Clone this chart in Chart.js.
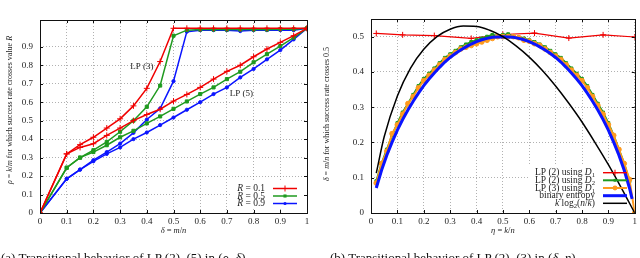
<!DOCTYPE html>
<html>
<head>
<meta charset="utf-8">
<script src="https://cdn.jsdelivr.net/npm/chart.js@4.4.1/dist/chart.umd.min.js"></script>
<style>
  body { margin: 0; background: #fff; width: 640px; height: 258px; overflow: hidden; position: relative; font-family: "Liberation Serif", serif; }
  .panel { position: absolute; top: 0; width: 320px; height: 258px; }
  .cap { position: absolute; top: 251px; font-size: 13px; line-height: 13px; white-space: nowrap; color: #111; }
</style>
</head>
<body>
<div class="panel" style="left:0"><canvas id="left" width="320" height="258"></canvas></div>
<div class="panel" style="left:320px"><canvas id="right" width="320" height="258"></canvas></div>
<div class="cap" style="left:1px">(a) Transitional behavior of LP (2)–(5) in (<i>ρ</i>, <i>δ</i>)</div>
<div class="cap" style="left:330px">(b) Transitional behavior of LP (2)–(3) in (<i>δ</i>, <i>η</i>)</div>
<script>
// ---- left panel: rho = k/m where success rate crosses R, against delta = m/n
const deltaVals = [0, 0.1, 0.15, 0.2, 0.25, 0.3, 0.35, 0.4, 0.45, 0.5, 0.55, 0.6, 0.65, 0.7, 0.75, 0.8, 0.85, 0.9, 0.95, 1];
const lp3R01 = [0, 0.32, 0.37, 0.41, 0.46, 0.51, 0.58, 0.675, 0.82, 1, 1, 1, 1, 1, 1, 1, 1, 1, 1, 1];
const lp5R01 = [0, 0.32, 0.355, 0.375, 0.42, 0.46, 0.5, 0.533, 0.562, 0.606, 0.642, 0.68, 0.725, 0.767, 0.8, 0.846, 0.888, 0.924, 0.96, 1];
const lp3R05 = [0, 0.245, 0.3, 0.34, 0.385, 0.44, 0.5, 0.575, 0.69, 0.96, 0.99, 0.993, 0.993, 0.993, 0.993, 0.993, 0.993, 0.995, 0.995, 1];
const lp5R05 = [0, 0.245, 0.3, 0.33, 0.367, 0.41, 0.445, 0.485, 0.523, 0.564, 0.604, 0.644, 0.68, 0.725, 0.765, 0.816, 0.86, 0.904, 0.95, 1];
const lp3R09 = [0, 0.185, 0.235, 0.286, 0.33, 0.376, 0.434, 0.506, 0.566, 0.714, 0.982, 0.99, 0.99, 0.99, 0.985, 0.99, 0.99, 0.99, 0.99, 1];
const lp5R09 = [0, 0.185, 0.235, 0.28, 0.32, 0.355, 0.4, 0.436, 0.476, 0.517, 0.559, 0.6, 0.644, 0.68, 0.734, 0.78, 0.832, 0.882, 0.94, 1];

// ---- right panel: delta = m/n where success rate crosses 0.5, against eta = k/n
const etaGrid = [0.02, 0.04, 0.06, 0.08, 0.1, 0.12, 0.14, 0.16, 0.18, 0.2,
  0.22, 0.24, 0.26, 0.28, 0.3, 0.32, 0.34, 0.36, 0.38, 0.4,
  0.42, 0.44, 0.46, 0.48, 0.5, 0.52, 0.54, 0.56, 0.58, 0.6,
  0.62, 0.64, 0.66, 0.68, 0.7, 0.72, 0.74, 0.76, 0.78, 0.8,
  0.82, 0.84, 0.86, 0.88, 0.9, 0.92, 0.94, 0.96, 0.98, 1];
const lp2D1Eta = [0.02, 0.12, 0.24, 0.38, 0.5, 0.62, 0.75, 0.88, 1];
const lp2D1 = [0.509, 0.505, 0.503, 0.495, 0.506, 0.51, 0.496, 0.505, 0.499];
const lp2D2 = [0.09, 0.14, 0.18, 0.22, 0.255, 0.285, 0.31, 0.335, 0.36, 0.38,
  0.395, 0.41, 0.425, 0.44, 0.45, 0.46, 0.47, 0.478, 0.485, 0.49,
  0.495, 0.5, 0.505, 0.502, 0.505, 0.507, 0.5, 0.498, 0.495, 0.49,
  0.485, 0.478, 0.47, 0.46, 0.45, 0.44, 0.425, 0.41, 0.395, 0.38,
  0.36, 0.335, 0.31, 0.285, 0.255, 0.22, 0.18, 0.14, 0.09];
const lp3D1 = [0.085, 0.14, 0.175, 0.225, 0.25, 0.28, 0.31, 0.33, 0.355, 0.375,
  0.39, 0.405, 0.42, 0.435, 0.445, 0.455, 0.465, 0.47, 0.475, 0.48,
  0.485, 0.49, 0.495, 0.5, 0.5, 0.5, 0.5, 0.497, 0.49, 0.487,
  0.48, 0.475, 0.465, 0.455, 0.445, 0.435, 0.42, 0.405, 0.39, 0.375,
  0.355, 0.33, 0.305, 0.28, 0.25, 0.22, 0.18, 0.14, 0.095, 0];
const entropyEta = etaGrid.slice(0, 49).concat([0.99]);
const entropy = [0.071, 0.121, 0.164, 0.201, 0.235, 0.265, 0.292, 0.317, 0.34, 0.361,
  0.38, 0.397, 0.413, 0.428, 0.441, 0.452, 0.462, 0.471, 0.479, 0.486,
  0.491, 0.495, 0.498, 0.499, 0.5, 0.499, 0.498, 0.495, 0.491, 0.486,
  0.479, 0.471, 0.462, 0.452, 0.441, 0.428, 0.413, 0.397, 0.38, 0.361,
  0.34, 0.317, 0.292, 0.265, 0.235, 0.201, 0.164, 0.121, 0.071, 0.04];
const klogEta = [0.02, 0.05, 0.1, 0.15, 0.2, 0.25, 0.3, 0.35, 0.4, 0.45, 0.5, 0.55, 0.6, 0.65, 0.7, 0.75, 0.8, 0.85, 0.9, 0.95, 1];
const klog = [0.113, 0.216, 0.332, 0.411, 0.464, 0.5, 0.521, 0.53, 0.529, 0.518, 0.5, 0.474, 0.442, 0.404, 0.36, 0.311, 0.258, 0.199, 0.137, 0.07, 0];

const SERIF = '"Liberation Serif", "DejaVu Serif", serif';
const RED = '#f00000', GREEN = '#1f9a1f', BLUE = '#0a14ff', ORANGE = '#ff9a1e', BLACK = '#000';

function pts(xs, ys) {
  return ys.map((y, i) => ({ x: xs[i], y: y }));
}

function fontFor(seg, size) {
  const k = seg[1] || '';
  return (k.includes('i') ? 'italic ' : '') + (k.includes('s') ? size * 0.7 : size) + 'px ' + SERIF;
}

// text made of pieces, some italic, some subscript
function drawRich(ctx, segs, x, y, size, align) {
  let total = 0;
  segs.forEach(s => { ctx.font = fontFor(s, size); total += ctx.measureText(s[0]).width; });
  let cx = align === 'right' ? x - total : align === 'center' ? x - total / 2 : x;
  ctx.textBaseline = 'middle';
  ctx.textAlign = 'left';
  segs.forEach(s => {
    ctx.font = fontFor(s, size);
    const dy = (s[1] || '').includes('s') ? size * 0.3 : 0;
    ctx.fillText(s[0], cx, y + dy);
    cx += ctx.measureText(s[0]).width;
  });
}

function drawMarker(ctx, kind, x, y, r, color) {
  ctx.save();
  ctx.fillStyle = color;
  ctx.strokeStyle = color;
  ctx.lineWidth = 1;
  ctx.beginPath();
  if (kind === 'cross') {
    ctx.moveTo(x - r, y); ctx.lineTo(x + r, y);
    ctx.moveTo(x, y - r); ctx.lineTo(x, y + r);
    ctx.stroke();
  } else if (kind === 'rect') {
    const h = r * Math.SQRT1_2;
    ctx.fillRect(x - h, y - h, 2 * h, 2 * h);
  } else {
    ctx.arc(x, y, r, 0, Math.PI * 2);
    ctx.fill();
  }
  ctx.restore();
}

function decor(cfg) {
  return {
    id: 'decor',
    beforeDatasetsDraw(chart) {
      const ctx = chart.ctx, b = cfg.keyBox;
      ctx.save();
      ctx.fillStyle = '#fff';
      ctx.fillRect(b[0], b[1], b[2] - b[0], b[3] - b[1]);
      ctx.restore();
    },
    afterDatasetsDraw(chart) {
      const ctx = chart.ctx;
      ctx.save();
      cfg.key.forEach((k, i) => {
        const y = cfg.keyRows[i];
        ctx.fillStyle = '#222';
        drawRich(ctx, k.label, cfg.keyText, y, 9.5, 'right');
        ctx.strokeStyle = k.color;
        ctx.lineWidth = k.width;
        ctx.beginPath();
        ctx.moveTo(cfg.keyLine[0], y);
        ctx.lineTo(cfg.keyLine[1], y);
        ctx.stroke();
        if (k.marker) drawMarker(ctx, k.marker, (cfg.keyLine[0] + cfg.keyLine[1]) / 2, y, k.size, k.color);
      });
      ctx.fillStyle = '#222';
      (cfg.notes || []).forEach(n => {
        drawRich(ctx, n.label, chart.scales.x.getPixelForValue(n.x), chart.scales.y.getPixelForValue(n.y), 9, 'center');
      });
      ctx.restore();
    },
    afterDraw(chart) {
      const ctx = chart.ctx, a = chart.chartArea;
      ctx.save();
      ctx.strokeStyle = '#111';
      ctx.lineWidth = 1;
      ctx.beginPath();
      chart.scales.x.ticks.forEach(t => {
        const px = Math.round(chart.scales.x.getPixelForValue(t.value)) + 0.5;
        ctx.moveTo(px, a.bottom); ctx.lineTo(px, a.bottom - 3);
        ctx.moveTo(px, a.top); ctx.lineTo(px, a.top + 3);
      });
      chart.scales.y.ticks.forEach(t => {
        const py = Math.round(chart.scales.y.getPixelForValue(t.value)) + 0.5;
        ctx.moveTo(a.left, py); ctx.lineTo(a.left + 3, py);
        ctx.moveTo(a.right, py); ctx.lineTo(a.right - 3, py);
      });
      ctx.stroke();
      ctx.strokeRect(Math.round(a.left) + 0.5, Math.round(a.top) + 0.5, Math.round(a.right - a.left), Math.round(a.bottom - a.top));
      ctx.fillStyle = '#222';
      drawRich(ctx, cfg.xTitle, (a.left + a.right) / 2, 231, 8.5, 'center');
      ctx.translate(cfg.yTitleX, cfg.yTitleY);
      ctx.rotate(-Math.PI / 2);
      drawRich(ctx, cfg.yTitle, 0, 0, 8, 'center');
      ctx.restore();
    }
  };
}

function tickLabel(v) {
  const r = Math.round(v * 10) / 10;
  if (r === 0) return '0';
  if (r === 1) return '1';
  return r.toFixed(1);
}

function scalesFor(yMax, yLimit, yWidth) {
  const gridOpts = { color: 'rgba(90,90,90,0.6)', lineWidth: 0.8, drawTicks: false };
  const tickFont = { family: SERIF, size: 9 };
  return {
    x: {
      type: 'linear', min: 0, max: 1,
      grid: gridOpts,
      border: { display: false, dash: [1, 2] },
      ticks: { stepSize: 0.1, font: tickFont, color: '#222', padding: 3, maxRotation: 0, autoSkip: false, callback: tickLabel },
      afterFit: s => { s.height = 26; }
    },
    y: {
      type: 'linear', min: 0, max: yMax,
      grid: gridOpts,
      border: { display: false, dash: [1, 2] },
      ticks: { stepSize: 0.1, font: tickFont, color: '#222', padding: 7, autoSkip: false, callback: tickLabel },
      afterBuildTicks: s => { s.ticks = s.ticks.filter(t => t.value <= yLimit + 1e-6); },
      afterFit: s => { s.width = yWidth; }
    }
  };
}

function series(data, color, style, r, width) {
  return {
    data: data,
    borderColor: color,
    backgroundColor: color,
    borderWidth: width,
    pointStyle: style || 'circle',
    pointRadius: style ? r : 0,
    pointBorderWidth: 1,
    pointBorderColor: color,
    pointBackgroundColor: color,
    tension: 0,
    fill: false
  };
}

const baseOptions = {
  responsive: false,
  animation: false,
  events: [],
  plugins: { legend: { display: false }, tooltip: { enabled: false } }
};

new Chart(document.getElementById('left'), {
  type: 'line',
  data: {
    datasets: [
      series(pts(deltaVals, lp3R01), RED, 'cross', 3, 1.5),
      series(pts(deltaVals, lp5R01), RED, 'cross', 3, 1.5),
      series(pts(deltaVals, lp3R05), GREEN, 'rect', 2.2, 1.5),
      series(pts(deltaVals, lp5R05), GREEN, 'rect', 2.2, 1.5),
      series(pts(deltaVals, lp3R09), BLUE, 'circle', 1.6, 1.5),
      series(pts(deltaVals, lp5R09), BLUE, 'circle', 1.6, 1.5)
    ]
  },
  options: Object.assign({}, baseOptions, {
    layout: { padding: { left: 0, right: 13, top: 20, bottom: 19 } },
    scales: scalesFor(1.045, 1, 40)
  }),
  plugins: [decor({
    keyBox: [230, 181, 305, 209],
    keyRows: [188.5, 196, 203.5],
    keyText: 265,
    keyLine: [273, 297],
    key: [
      { label: [['R', 'i'], [' = 0.1']], color: RED, width: 1.5, marker: 'cross', size: 3 },
      { label: [['R', 'i'], [' = 0.5']], color: GREEN, width: 1.5, marker: 'rect', size: 2.2 },
      { label: [['R', 'i'], [' = 0.9']], color: BLUE, width: 1.5, marker: 'circle', size: 1.6 }
    ],
    notes: [
      { label: [['LP (3)']], x: 0.382, y: 0.795 },
      { label: [['LP (5)']], x: 0.754, y: 0.644 }
    ],
    xTitle: [['δ', 'i'], [' = '], ['m', 'i'], ['/'], ['n', 'i']],
    yTitle: [['ρ', 'i'], [' = '], ['k', 'i'], ['/'], ['m', 'i'], [' for which success rate crosses value '], ['R', 'i']],
    yTitleX: 10,
    yTitleY: 110
  })]
});

const blackLine = series(pts(klogEta, klog), BLACK, null, 0, 1.5);
blackLine.cubicInterpolationMode = 'monotone';
blackLine.order = 0;
const blueLine = series(pts(entropyEta, entropy), BLUE, null, 0, 3);
blueLine.order = 1;
const orangeLine = series(pts(etaGrid, lp3D1), ORANGE, 'circle', 2.4, 2);
orangeLine.order = 2;
const greenLine = series(pts(etaGrid, lp2D2), GREEN, 'rect', 2, 2);
greenLine.order = 3;
const redLine = series(pts(lp2D1Eta, lp2D1), RED, 'cross', 3, 1.2);
redLine.order = 4;

new Chart(document.getElementById('right'), {
  type: 'line',
  data: { datasets: [redLine, greenLine, orangeLine, blueLine, blackLine] },
  options: Object.assign({}, baseOptions, {
    layout: { padding: { left: 0, right: 2, top: 19, bottom: 19 } },
    scales: scalesFor(0.55, 0.5, 51)
  }),
  plugins: [decor({
    keyBox: [209, 166, 316, 209],
    keyRows: [172.7, 180.3, 188, 195.7, 203.3],
    keyText: 275,
    keyLine: [283, 307],
    key: [
      { label: [['LP (2) using '], ['D', 'i'], ['1', 's']], color: RED, width: 1.4, marker: 'cross', size: 3 },
      { label: [['LP (2) using '], ['D', 'i'], ['2', 's']], color: GREEN, width: 2, marker: 'rect', size: 2 },
      { label: [['LP (3) using '], ['D', 'i'], ['1', 's']], color: ORANGE, width: 2, marker: 'circle', size: 2.4 },
      { label: [['binary entropy']], color: BLUE, width: 3 },
      { label: [['k', 'i'], [' log'], ['2', 's'], ['('], ['n', 'i'], ['/'], ['k', 'i'], [')']], color: BLACK, width: 1.5 }
    ],
    xTitle: [['η', 'i'], [' = '], ['k', 'i'], ['/'], ['n', 'i']],
    yTitle: [['δ', 'i'], [' = '], ['m', 'i'], ['/'], ['n', 'i'], [' for which success rate crosses 0.5']],
    yTitleX: 7,
    yTitleY: 114
  })]
});
</script>
</body>
</html>
